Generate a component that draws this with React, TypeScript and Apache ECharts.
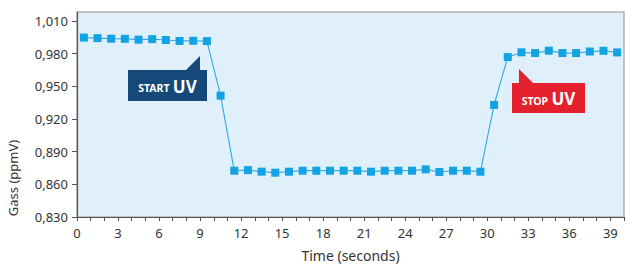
import React, { useEffect, useRef } from "react";
import * as echarts from "echarts";

// Time (seconds) of each sample
const times = [
  0.5, 1.5, 2.5, 3.5, 4.5, 5.5, 6.5, 7.5, 8.5, 9.5,
  10.5, 11.5, 12.5, 13.5, 14.5, 15.5, 16.5, 17.5, 18.5, 19.5,
  20.5, 21.5, 22.5, 23.5, 24.5, 25.5, 26.5, 27.5, 28.5, 29.5,
  30.5, 31.5, 32.5, 33.5, 34.5, 35.5, 36.5, 37.5, 38.5, 39.5,
];
// Gas concentration (ppmV)
const gas = [
  0.9947, 0.9942, 0.9937, 0.9936, 0.9928, 0.9933, 0.9925, 0.9916, 0.9918, 0.9915,
  0.9414, 0.8725, 0.8730, 0.8716, 0.8707, 0.8716, 0.8725, 0.8725, 0.8725, 0.8725,
  0.8725, 0.8716, 0.8725, 0.8725, 0.8725, 0.8737, 0.8713, 0.8725, 0.8725, 0.8716,
  0.9329, 0.9768, 0.9812, 0.9805, 0.9827, 0.9805, 0.9805, 0.9819, 0.9826, 0.9811,
];
const yTicks = [0.83, 0.86, 0.89, 0.92, 0.95, 0.98, 1.01];
const xLabelStep = 3;

const FONT = "'Noto Sans', 'Open Sans', sans-serif";

export default function App() {
  const ref = useRef<HTMLDivElement>(null);
  useEffect(() => {
    if (!ref.current) return;
    const chart = echarts.init(ref.current, null, { renderer: "svg" });
    const data = times.map((t, i) => [t, gas[i]]);
    chart.setOption({
      animation: false,
      backgroundColor: "#ffffff",
      grid: {
        left: 77,
        right: 0,
        top: 12,
        bottom: 49,
        show: true,
        backgroundColor: "#e0f0fb",
        borderColor: "#b3b3b3",
        borderWidth: 1.5,
      },
      xAxis: {
        type: "value",
        min: 0,
        max: 40,
        interval: 1,
        name: "Time (seconds)",
        nameLocation: "middle",
        nameGap: 31,
        nameTextStyle: { fontFamily: FONT, fontSize: 14, color: "#333" },
        axisLine: { show: true, onZero: false, lineStyle: { color: "#555", width: 1.2 } },
        axisTick: { show: true, length: 4, lineStyle: { color: "#555" } },
        axisLabel: {
          fontFamily: FONT,
          fontSize: 13,
          color: "#333",
          margin: 9,
          formatter: (v: number) => (v % xLabelStep === 0 ? String(v) : ""),
        },
        splitLine: { show: false },
      },
      yAxis: {
        type: "value",
        min: 0.83,
        max: 1.0182,
        axisLine: { show: true, lineStyle: { color: "#555", width: 1.2 } },
        axisTick: { show: true, length: 5, customValues: yTicks, lineStyle: { color: "#555" } },
        axisLabel: {
          fontFamily: FONT,
          fontSize: 13,
          color: "#333",
          margin: 9,
          customValues: yTicks,
          formatter: (v: number) => v.toFixed(3).replace(".", ","),
        },
        splitLine: { show: false },
      },
      series: [
        {
          type: "line",
          data,
          symbol: "rect",
          symbolSize: 8,
          lineStyle: { color: "#3aaee2", width: 1.2 },
          itemStyle: { color: "#13a2e2" },
        },
      ],
      graphic: [
        {
          type: "text",
          x: 13,
          y: 178,
          rotation: Math.PI / 2,
          style: {
            text: "Gass (ppmV)",
            fontFamily: FONT,
            fontSize: 13,
            fill: "#333",
            align: "center",
            verticalAlign: "middle",
          },
        },
        {
          type: "polygon",
          shape: { points: [[185, 71], [200, 56], [200, 71]] },
          style: { fill: "#14497a" },
        },
        {
          type: "rect",
          shape: { x: 128, y: 70, width: 79, height: 31 },
          style: { fill: "#14497a" },
        },
        {
          type: "text",
          x: 167.5,
          y: 86,
          style: {
            text: "{a|START} {b|UV}",
            align: "center",
            verticalAlign: "middle",
            rich: {
              a: { fontFamily: FONT, fontSize: 10.5, fontWeight: "bold", fill: "#fff", padding: [4, 0, 0, 0] },
              b: { fontFamily: FONT, fontSize: 17, fontWeight: "bold", fill: "#fff" },
            },
          },
        },
        {
          type: "polygon",
          shape: { points: [[519, 69], [519, 84], [534, 84]] },
          style: { fill: "#e4202c" },
        },
        {
          type: "rect",
          shape: { x: 512, y: 83, width: 73, height: 30 },
          style: { fill: "#e4202c" },
        },
        {
          type: "text",
          x: 548.5,
          y: 98.5,
          style: {
            text: "{a|STOP} {b|UV}",
            align: "center",
            verticalAlign: "middle",
            rich: {
              a: { fontFamily: FONT, fontSize: 10.5, fontWeight: "bold", fill: "#fff", padding: [4, 0, 0, 0] },
              b: { fontFamily: FONT, fontSize: 17, fontWeight: "bold", fill: "#fff" },
            },
          },
        },
      ],
    });
    return () => chart.dispose();
  }, []);
  return (
    <div
      ref={ref}
      style={{ position: "fixed", left: 0, top: 0, width: 627, height: 267 }}
    />
  );
}
